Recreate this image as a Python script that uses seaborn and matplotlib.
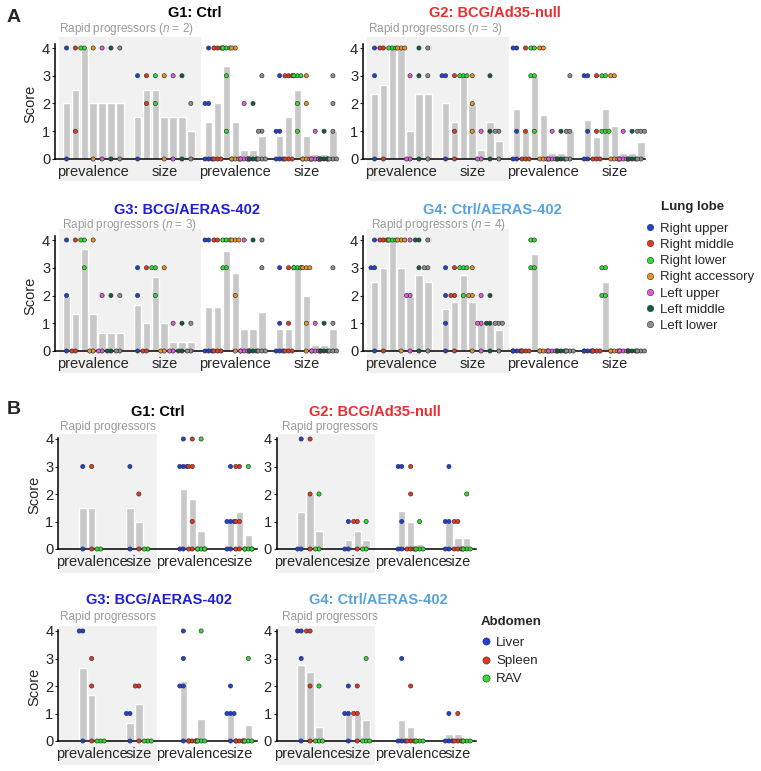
import warnings
import matplotlib
matplotlib.use("Agg")
import matplotlib.pyplot as plt
from matplotlib.lines import Line2D
from matplotlib.patches import Rectangle
import pandas as pd
import seaborn as sns

warnings.simplefilter(action="ignore")

# ---- categories / labels ----
LOBES = ["Right upper", "Right middle", "Right lower", "Right accessory",
         "Left upper", "Left middle", "Left lower"]
LOBE_COLORS = ["#1f3fe0", "#e8361f", "#2be02b", "#f0901e", "#e854e8", "#0d5e3c", "#8f8f8f"]
ORGANS = ["Liver", "Spleen", "RAV"]
ORGAN_COLORS = ["#1f3fe0", "#e8361f", "#2be02b"]
GROUPS = ["G1: Ctrl", "G2: BCG/Ad35-null", "G3: BCG/AERAS-402", "G4: Ctrl/AERAS-402"]
GROUP_COLORS = ["#000000", "#ee2b2b", "#1d1ddb", "#55a3dc"]
RP_N = [2, 3, 3, 4]
MEASURES = ["prevalence", "size"]

# ---- panel A: lung lobe scores, one row per lobe, one value per animal ----
A_G1_RP_PREV = [[4, 0], [4, 1], [4, 4], [4, 0], [4, 0], [4, 0], [4, 0]]
A_G1_RP_SIZE = [[3, 0], [3, 2], [3, 2], [3, 0], [3, 0], [3, 0], [2, 0]]
A_G1_NP_PREV = [[4, 2, 2, 0, 0, 0], [4, 4, 4, 0, 0, 0], [4, 4, 4, 4, 3, 1], [4, 4, 0, 0, 0, 0],
                [2, 0, 0, 0, 0, 0], [2, 0, 0, 0, 0, 0], [3, 1, 1, 0, 0, 0]]
A_G1_NP_SIZE = [[3, 1, 1, 0, 0, 0], [3, 3, 3, 0, 0, 0], [3, 3, 3, 3, 2, 1], [3, 2, 0, 0, 0, 0],
                [1, 0, 0, 0, 0, 0], [1, 0, 0, 0, 0, 0], [3, 2, 1, 0, 0, 0]]

A_G2_RP_PREV = [[4, 3, 0], [4, 4, 0], [4, 4, 4], [4, 4, 4], [3, 0, 0], [4, 3, 0], [4, 3, 0]]
A_G2_RP_SIZE = [[3, 3, 0], [3, 1, 0], [3, 3, 3], [3, 2, 1], [1, 0, 0], [3, 1, 0], [1, 1, 0]]
A_G2_NP_PREV = [[4, 4, 1, 0, 0], [4, 1, 0, 0, 0], [4, 4, 3, 3, 1], [4, 4, 0, 0, 0],
                [1, 0, 0, 0, 0], [1, 0, 0, 0, 0], [3, 1, 1, 0, 0]]
A_G2_NP_SIZE = [[3, 3, 1, 0, 0], [3, 1, 0, 0, 0], [3, 3, 1, 1, 1], [3, 3, 0, 0, 0],
                [1, 0, 0, 0, 0], [1, 0, 0, 0, 0], [1, 1, 1, 0, 0]]

A_G3_RP_PREV = [[4, 2, 0], [4, 0, 0], [4, 4, 3], [4, 0, 0], [2, 0, 0], [2, 0, 0], [2, 0, 0]]
A_G3_RP_SIZE = [[3, 2, 0], [3, 0, 0], [3, 3, 2], [3, 0, 0], [1, 0, 0], [1, 0, 0], [1, 0, 0]]
A_G3_NP_PREV = [[4, 4, 0, 0, 0], [4, 4, 0, 0, 0], [4, 4, 4, 3, 3], [4, 4, 4, 2, 0],
                [4, 0, 0, 0, 0], [4, 0, 0, 0, 0], [4, 3, 0, 0, 0]]
A_G3_NP_SIZE = [[3, 1, 0, 0, 0], [3, 1, 0, 0, 0], [3, 3, 3, 3, 3], [3, 3, 3, 1, 0],
                [1, 0, 0, 0, 0], [1, 0, 0, 0, 0], [3, 1, 0, 0, 0]]

A_G4_RP_PREV = [[4, 3, 3, 0], [4, 4, 4, 0], [4, 4, 4, 4], [4, 4, 4, 0], [4, 2, 2, 0],
                [4, 4, 3, 0], [4, 3, 3, 0]]
A_G4_RP_SIZE = [[3, 2, 1, 0], [3, 2, 2, 0], [3, 3, 3, 2], [3, 2, 2, 0], [2, 1, 1, 0],
                [2, 1, 1, 0], [1, 1, 1, 0]]
A_G4_NP_PREV = [[0, 0, 0, 0], [0, 0, 0, 0], [4, 4, 3, 3], [0, 0, 0, 0], [0, 0, 0, 0],
                [0, 0, 0, 0], [0, 0, 0, 0]]
A_G4_NP_SIZE = [[0, 0, 0, 0], [0, 0, 0, 0], [3, 3, 2, 2], [0, 0, 0, 0], [0, 0, 0, 0],
                [0, 0, 0, 0], [0, 0, 0, 0]]

# ---- panel B: abdomen scores ----
B_G1_RP_PREV = [[3, 0], [3, 0], [0, 0]]
B_G1_RP_SIZE = [[3, 0], [2, 0], [0, 0]]
B_G1_NP_PREV = [[4, 3, 3, 3, 0, 0], [4, 3, 3, 1, 0, 0], [4, 0, 0, 0, 0, 0]]
B_G1_NP_SIZE = [[3, 1, 1, 1, 0, 0], [3, 3, 1, 1, 0, 0], [3, 0, 0, 0, 0, 0]]

B_G2_RP_PREV = [[4, 0, 0], [4, 2, 0], [2, 0, 0]]
B_G2_RP_SIZE = [[1, 0, 0], [1, 1, 0], [1, 0, 0]]
B_G2_NP_PREV = [[3, 3, 1, 0, 0], [3, 2, 0, 0, 0], [1, 0, 0, 0, 0]]
B_G2_NP_SIZE = [[3, 1, 1, 0, 0], [1, 1, 0, 0, 0], [2, 0, 0, 0, 0]]

B_G3_RP_PREV = [[4, 4, 0], [3, 2, 0], [0, 0, 0]]
B_G3_RP_SIZE = [[1, 1, 0], [2, 2, 0], [0, 0, 0]]
B_G3_NP_PREV = [[4, 3, 2, 2, 0], [0, 0, 0, 0, 0], [4, 0, 0, 0, 0]]
B_G3_NP_SIZE = [[2, 1, 1, 1, 0], [0, 0, 0, 0, 0], [3, 0, 0, 0, 0]]

B_G4_RP_PREV = [[4, 4, 3, 0], [4, 4, 2, 0], [2, 0, 0, 0]]
B_G4_RP_SIZE = [[2, 1, 1, 0], [2, 1, 1, 0], [3, 0, 0, 0]]
B_G4_NP_PREV = [[3, 0, 0, 0], [2, 0, 0, 0], [0, 0, 0, 0]]
B_G4_NP_SIZE = [[1, 0, 0, 0], [1, 0, 0, 0], [0, 0, 0, 0]]

LUNG = [[A_G1_RP_PREV, A_G1_RP_SIZE, A_G1_NP_PREV, A_G1_NP_SIZE],
        [A_G2_RP_PREV, A_G2_RP_SIZE, A_G2_NP_PREV, A_G2_NP_SIZE],
        [A_G3_RP_PREV, A_G3_RP_SIZE, A_G3_NP_PREV, A_G3_NP_SIZE],
        [A_G4_RP_PREV, A_G4_RP_SIZE, A_G4_NP_PREV, A_G4_NP_SIZE]]
ABDO = [[B_G1_RP_PREV, B_G1_RP_SIZE, B_G1_NP_PREV, B_G1_NP_SIZE],
        [B_G2_RP_PREV, B_G2_RP_SIZE, B_G2_NP_PREV, B_G2_NP_SIZE],
        [B_G3_RP_PREV, B_G3_RP_SIZE, B_G3_NP_PREV, B_G3_NP_SIZE],
        [B_G4_RP_PREV, B_G4_RP_SIZE, B_G4_NP_PREV, B_G4_NP_SIZE]]

# ---- layout (pixels of a 761x771 canvas) ----
W, H = 761, 771
BAR = "#c8c8c8"
SHADE = "#f1f1f1"
EDGE = "#303030"

A_STARTS = [0, 8, 16, 24]
A_XLIM, A_YLIM, A_SLOT = (-1.3, 30.5), (-0.15, 4.15), 8.88
A_LEFT, A_Y4 = [55, 363], [48, 240]
A_SHADE_X, A_SHADE_Y = (-0.9, 15.15), (-0.8, 4.38)
A_TITLE_XY = [(195, 13), (495, 13), (187, 210), (492, 210)]
A_RP_XY = [(59, 29), (368, 29), (62, 225), (371, 225)]

B_STARTS = [0, 5.3, 11.3, 16.6]
B_XLIM, B_YLIM, B_SLOT = (-2.75, 19.6), (-0.15, 4.05), 8.9
B_LEFT, B_Y4 = [58.3, 276.7], [439, 631]
B_SHADE_X, B_SHADE_Y = (-2.65, 8.3), (-0.87, 4.18)
B_TITLE_XY = [(158, 412), (375, 412), (159, 600), (378, 600)]
B_RP_XY = [(60, 427), (282, 427), (60, 617), (282, 617)]

sns.set_style("ticks")
plt.rcParams["font.family"] = ["Liberation Sans", "DejaVu Sans"]
plt.rcParams["mathtext.fontset"] = "custom"
plt.rcParams["mathtext.rm"] = "Liberation Sans"
plt.rcParams["mathtext.it"] = "Liberation Sans:italic"


def long_table(blocks, parts, starts):
    rows = []
    for block, start in zip(blocks, starts):
        for i, (part, vals) in enumerate(zip(parts, block)):
            for v in vals:
                rows.append({"pos": start + i, "part": part, "value": v})
    return pd.DataFrame(rows)


def add_axes_px(fig, left, y4, slot, xlim, ylim):
    unit = 111 / 4.0 if y4 < 400 else 110 / 4.0
    y0 = y4 + 4 * unit
    top = y4 - (ylim[1] - 4) * unit
    bottom = y0 - ylim[0] * unit
    width = (xlim[1] - xlim[0]) * slot
    return fig.add_axes([left / W, 1 - bottom / H, width / W, (bottom - top) / H])


def draw_panel(ax, df, palette, ticks, xlim, ylim, shade_x, shade_y, ylabel, size):
    ax.patch.set_visible(False)
    ax.add_patch(Rectangle((shade_x[0], shade_y[0]), shade_x[1] - shade_x[0],
                           shade_y[1] - shade_y[0], facecolor=SHADE, edgecolor="none",
                           zorder=0, clip_on=False))
    sns.barplot(data=df, x="pos", y="value", native_scale=True, errorbar=None,
                color=BAR, saturation=1, width=0.84, ax=ax)
    sns.swarmplot(data=df, x="pos", y="value", hue="part", palette=palette,
                  native_scale=True, size=size, linewidth=0.45, edgecolor=EDGE,
                  legend=False, warn_thresh=1.0, ax=ax)
    for c in ax.collections:
        c.set_zorder(5)
        c.set_clip_on(False)
    ax.set_xlim(xlim)
    ax.set_ylim(ylim)
    for s in ["top", "right"]:
        ax.spines[s].set_visible(False)
    ax.spines["bottom"].set_position(("data", 0))
    ax.spines["left"].set_bounds(0, ylim[1])
    for s in ["left", "bottom"]:
        ax.spines[s].set_linewidth(1.1)
        ax.spines[s].set_color("black")
        ax.spines[s].set_zorder(3)
    ax.set_xticks(ticks)
    ax.set_xticklabels(MEASURES * 2, fontsize=10.5)
    ax.tick_params(axis="x", length=0, pad=4.5)
    ax.set_yticks([0, 1, 2, 3, 4])
    ax.set_yticklabels(["0", "1", "2", "3", "4"], fontsize=10.5)
    ax.tick_params(axis="y", length=2, width=0.8, pad=1.5)
    ax.set_xlabel("")
    ax.set_ylabel("Score" if ylabel else "", fontsize=10.5, labelpad=3)


def legend_px(fig, labels, colors, x, y, fs, ms, spacing):
    handles = [Line2D([], [], ls="", marker="o", markersize=ms, markerfacecolor=c,
                      markeredgecolor=EDGE, markeredgewidth=0.4) for c in colors]
    fig.legend(handles, labels, loc="upper left", bbox_to_anchor=(x / W, 1 - y / H),
               frameon=False, fontsize=fs, borderpad=0, borderaxespad=0,
               handlelength=0.7, handletextpad=0.45, labelspacing=spacing)


fig = plt.figure(figsize=(W / 100, H / 100), dpi=100)

lobe_pal = dict(zip(LOBES, LOBE_COLORS))
organ_pal = dict(zip(ORGANS, ORGAN_COLORS))

for k in range(4):
    col, row = k % 2, k // 2
    # panel A
    ax = add_axes_px(fig, A_LEFT[col], A_Y4[row], A_SLOT, A_XLIM, A_YLIM)
    draw_panel(ax, long_table(LUNG[k], LOBES, A_STARTS), lobe_pal,
               [s + 3 for s in A_STARTS], A_XLIM, A_YLIM, A_SHADE_X, A_SHADE_Y,
               col == 0, 3.0)
    tx, ty = A_TITLE_XY[k]
    fig.text(tx / W, 1 - ty / H, GROUPS[k], ha="center", va="center",
             fontsize=10.5, fontweight="bold", color=GROUP_COLORS[k])
    rx, ry = A_RP_XY[k]
    fig.text(rx / W, 1 - ry / H, "Rapid progressors ($n$ = %d)" % RP_N[k],
             ha="left", va="center", fontsize=8.5, color="#9a9a9a")

    # panel B
    ax = add_axes_px(fig, B_LEFT[col], B_Y4[row], B_SLOT, B_XLIM, B_YLIM)
    draw_panel(ax, long_table(ABDO[k], ORGANS, B_STARTS), organ_pal,
               [s + 1 for s in B_STARTS], B_XLIM, B_YLIM, B_SHADE_X, B_SHADE_Y,
               col == 0, 3.0)
    tx, ty = B_TITLE_XY[k]
    fig.text(tx / W, 1 - ty / H, GROUPS[k], ha="center", va="center",
             fontsize=10.5, fontweight="bold", color=GROUP_COLORS[k])
    rx, ry = B_RP_XY[k]
    fig.text(rx / W, 1 - ry / H, "Rapid progressors", ha="left", va="center",
             fontsize=8.5, color="#9a9a9a")

# legends
fig.text(661 / W, 1 - 207 / H, "Lung lobe", ha="left", va="center",
         fontsize=9.5, fontweight="bold")
legend_px(fig, LOBES, LOBE_COLORS, 645, 222.5, 9.5, 4.6, 0.3)
fig.text(481 / W, 1 - 622 / H, "Abdomen", ha="left", va="center",
         fontsize=9.5, fontweight="bold")
legend_px(fig, ORGANS, ORGAN_COLORS, 481, 636.5, 9.6, 5.2, 0.45)

# panel letters
fig.text(14 / W, 1 - 18 / H, "A", ha="center", va="center", fontsize=14, fontweight="bold")
fig.text(14 / W, 1 - 410 / H, "B", ha="center", va="center", fontsize=14, fontweight="bold")

fig.savefig("out.png", dpi=100)
